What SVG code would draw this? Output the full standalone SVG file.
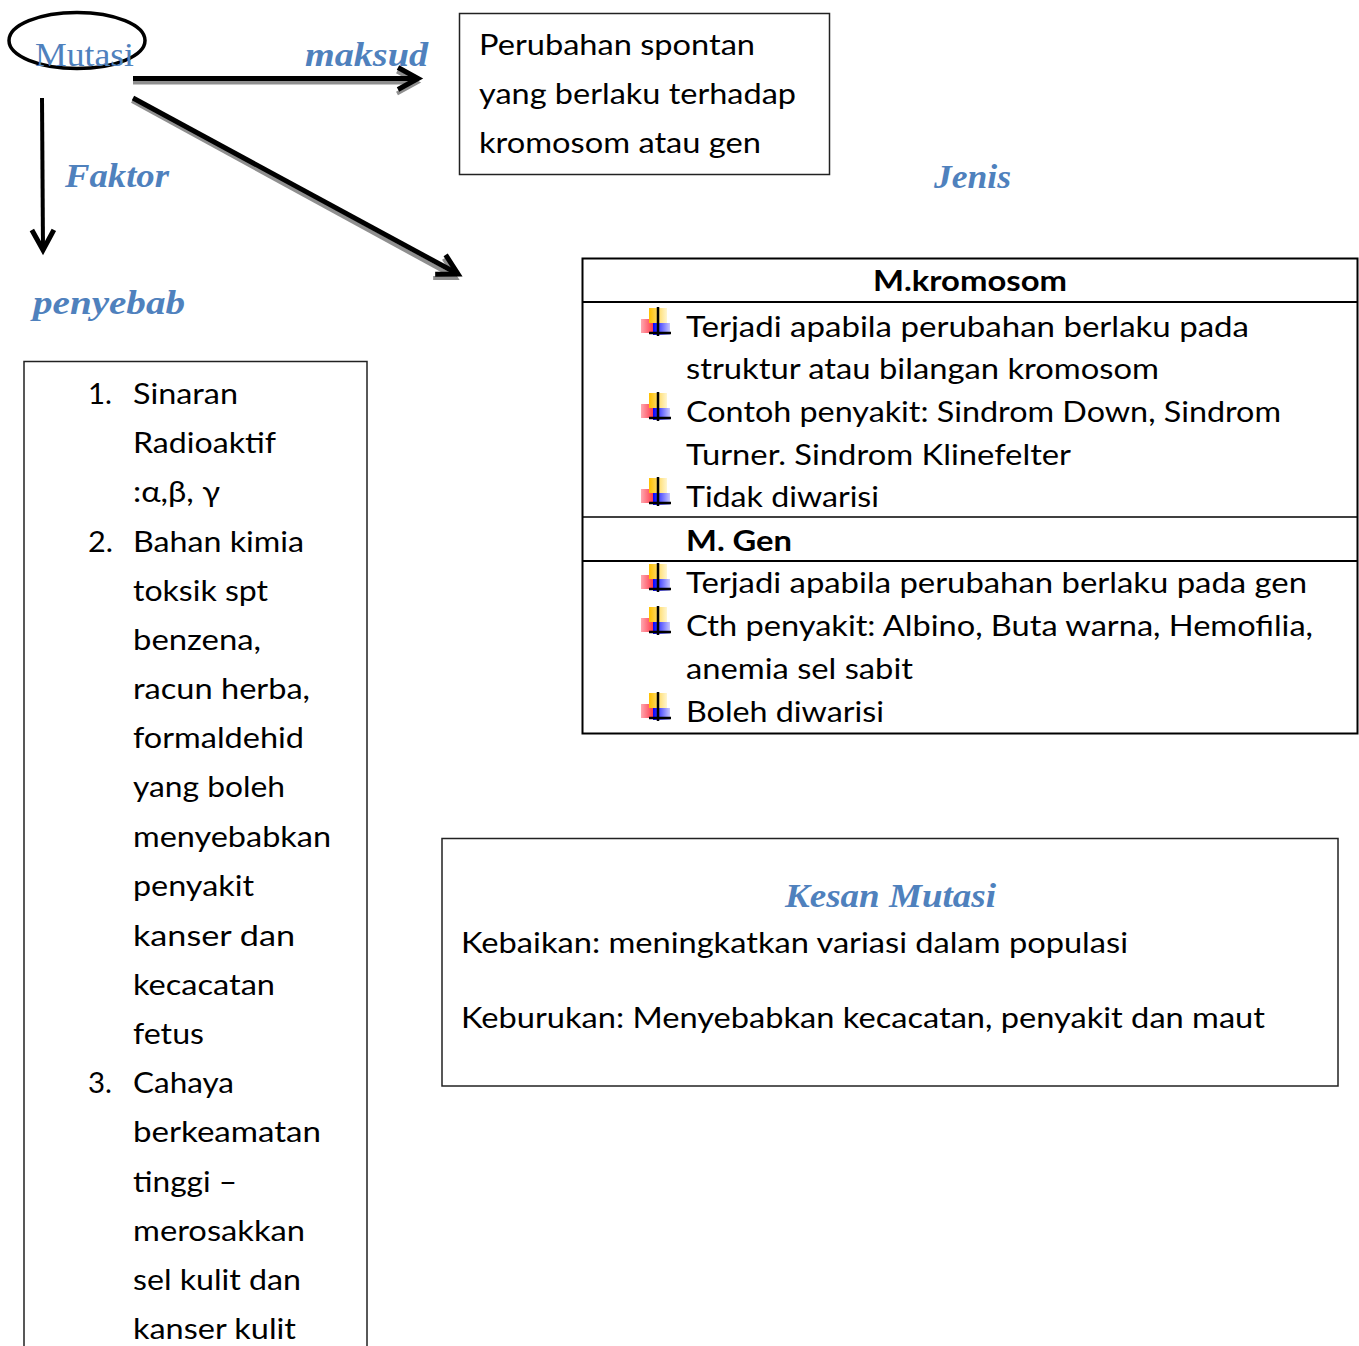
<svg xmlns="http://www.w3.org/2000/svg" width="1359" height="1346" viewBox="0 0 1359 1346">
<style>
.sans{font-family:Lato,"Liberation Sans","DejaVu Sans",sans-serif;font-size:29px;fill:#000}
.bold{font-weight:bold}
.lbl{font-family:"Liberation Serif","DejaVu Serif",serif;font-size:33px;font-weight:bold;font-style:italic;fill:#4F81BD}
.ser{font-family:"Liberation Serif","DejaVu Serif",serif;font-size:33px;fill:#4F81BD}
.box{fill:#fff;stroke:#222;stroke-width:1.5}
.tbl{fill:none;stroke:#000;stroke-width:2}
.conn{fill:none;stroke:#000;stroke-width:5;stroke-linejoin:miter}
.thin{stroke-width:4}
.shadow{fill:none;stroke:#8f8f8f;stroke-width:4}
.cross{stroke:#000;stroke-width:2.5}
</style>
<defs>
<marker id="chev" markerUnits="userSpaceOnUse" orient="auto" refX="0" refY="0" markerWidth="40" markerHeight="40" viewBox="-30 -20 40 40" overflow="visible">
<path d="M -20 -11 L 0 0 L -20 11" fill="none" stroke="#000" stroke-width="5"/>
</marker>
<marker id="chevShadow" markerUnits="userSpaceOnUse" orient="auto" refX="0" refY="0" markerWidth="40" markerHeight="40" viewBox="-30 -20 40 40" overflow="visible">
<path d="M -20 -11 L 0 0 L -20 11" fill="none" stroke="#8f8f8f" stroke-width="4"/>
</marker>
<linearGradient id="gY" x1="0" y1="0" x2="1" y2="0">
<stop offset="0" stop-color="#FFC000"/><stop offset="1" stop-color="#FFF6D0"/>
</linearGradient>
<linearGradient id="gR" x1="0" y1="0" x2="1" y2="0">
<stop offset="0" stop-color="#FFA8B0"/><stop offset="1" stop-color="#FF2A3C"/>
</linearGradient>
<linearGradient id="gB" x1="0" y1="0" x2="1" y2="0">
<stop offset="0" stop-color="#0000FF"/><stop offset="1" stop-color="#C8C8FF"/>
</linearGradient>
<g id="bullet">
<rect x="0" y="-18" width="14" height="14" fill="url(#gR)"/>
<rect x="8" y="-29" width="18" height="15" fill="url(#gY)"/>
<rect x="12" y="-14" width="17" height="12" fill="url(#gB)"/>
<line class="cross" x1="17" y1="-30" x2="17" y2="-1"/>
<line class="cross" x1="8" y1="-4" x2="30" y2="-4"/>
</g>
</defs>
<rect x="0" y="0" width="1359" height="1346" fill="#fff"/>

<g id="connectors">
<path class="shadow" d="M133 82.5 L417 82.5" marker-end="url(#chevShadow)"/>
<path class="conn" d="M133 78.5 L418 78.5" marker-end="url(#chev)"/>
<path class="shadow" d="M132 101 L456 278" marker-end="url(#chevShadow)"/>
<path class="conn" d="M133 98 L458 274" marker-end="url(#chev)"/>
<path class="conn thin" d="M42 98 L43 250" marker-end="url(#chev)"/>
</g>

<g id="node-mutasi">
<ellipse cx="77" cy="40.5" rx="68" ry="28" fill="none" stroke="#000" stroke-width="3.5"/>
<text class="ser" x="35" y="66" textLength="99" lengthAdjust="spacingAndGlyphs">Mutasi</text>
</g>

<g id="label-maksud">
<text class="lbl" x="305" y="66" textLength="123" lengthAdjust="spacingAndGlyphs">maksud</text>
</g>

<g id="label-faktor">
<text class="lbl" x="65" y="187" textLength="104" lengthAdjust="spacingAndGlyphs">Faktor</text>
<text class="lbl" x="33" y="314" textLength="152" lengthAdjust="spacingAndGlyphs">penyebab</text>
</g>

<g id="label-jenis">
<text class="lbl" x="934" y="188" textLength="77" lengthAdjust="spacingAndGlyphs">Jenis</text>
</g>

<g id="node-definition">
<rect class="box" x="459.5" y="13.5" width="370" height="161"/>
<text class="sans" x="479" y="55" textLength="276" lengthAdjust="spacingAndGlyphs">Perubahan spontan</text>
<text class="sans" x="479" y="104" textLength="317" lengthAdjust="spacingAndGlyphs">yang berlaku terhadap</text>
<text class="sans" x="479" y="153" textLength="282" lengthAdjust="spacingAndGlyphs">kromosom atau gen</text>
</g>

<g id="node-jenis-table">
<rect class="tbl" x="582.5" y="258.5" width="775" height="475"/>
<line class="tbl" x1="582" y1="302" x2="1358" y2="302"/>
<line stroke="#000" stroke-width="1.5" x1="582" y1="517" x2="1358" y2="517"/>
<line class="tbl" x1="582" y1="561" x2="1358" y2="561"/>
<text class="sans bold" x="873" y="291" textLength="194" lengthAdjust="spacingAndGlyphs">M.kromosom</text>
<use href="#bullet" transform="translate(641,337)"/>
<text class="sans" x="686" y="337" textLength="563" lengthAdjust="spacingAndGlyphs">Terjadi apabila perubahan  berlaku pada</text>
<text class="sans" x="686" y="379" textLength="473" lengthAdjust="spacingAndGlyphs">struktur atau bilangan kromosom</text>
<use href="#bullet" transform="translate(641,422)"/>
<text class="sans" x="686" y="422" textLength="595" lengthAdjust="spacingAndGlyphs">Contoh penyakit: Sindrom Down, Sindrom</text>
<text class="sans" x="686" y="465" textLength="385" lengthAdjust="spacingAndGlyphs">Turner. Sindrom Klinefelter</text>
<use href="#bullet" transform="translate(641,507)"/>
<text class="sans" x="686" y="507" textLength="193" lengthAdjust="spacingAndGlyphs">Tidak diwarisi</text>
<text class="sans bold" x="686" y="551" textLength="106" lengthAdjust="spacingAndGlyphs">M. Gen</text>
<use href="#bullet" transform="translate(641,593)"/>
<text class="sans" x="686" y="593" textLength="621" lengthAdjust="spacingAndGlyphs">Terjadi apabila perubahan berlaku pada gen</text>
<use href="#bullet" transform="translate(641,636)"/>
<text class="sans" x="686" y="636" textLength="627" lengthAdjust="spacingAndGlyphs">Cth penyakit: Albino, Buta warna, Hemofilia,</text>
<text class="sans" x="686" y="679" textLength="227" lengthAdjust="spacingAndGlyphs">anemia sel sabit</text>
<use href="#bullet" transform="translate(641,722)"/>
<text class="sans" x="686" y="722" textLength="198" lengthAdjust="spacingAndGlyphs">Boleh diwarisi</text>
</g>

<g id="node-causes">
<rect class="box" x="24" y="361.5" width="343" height="1000"/>
<text class="sans" x="88" y="404" textLength="24" lengthAdjust="spacingAndGlyphs">1.</text>
<text class="sans" x="133" y="404" textLength="105" lengthAdjust="spacingAndGlyphs">Sinaran</text>
<text class="sans" x="133" y="453" textLength="143" lengthAdjust="spacingAndGlyphs">Radioaktif</text>
<text class="sans" x="133" y="502" textLength="87" lengthAdjust="spacingAndGlyphs">:α,β, γ</text>
<text class="sans" x="88" y="552" textLength="25" lengthAdjust="spacingAndGlyphs">2.</text>
<text class="sans" x="133" y="552" textLength="171" lengthAdjust="spacingAndGlyphs">Bahan kimia</text>
<text class="sans" x="133" y="601" textLength="135" lengthAdjust="spacingAndGlyphs">toksik spt</text>
<text class="sans" x="133" y="650" textLength="128" lengthAdjust="spacingAndGlyphs">benzena,</text>
<text class="sans" x="133" y="699" textLength="177" lengthAdjust="spacingAndGlyphs">racun herba,</text>
<text class="sans" x="133" y="748" textLength="171" lengthAdjust="spacingAndGlyphs">formaldehid</text>
<text class="sans" x="133" y="797" textLength="152" lengthAdjust="spacingAndGlyphs">yang boleh</text>
<text class="sans" x="133" y="847" textLength="198" lengthAdjust="spacingAndGlyphs">menyebabkan</text>
<text class="sans" x="133" y="896" textLength="121" lengthAdjust="spacingAndGlyphs">penyakit</text>
<text class="sans" x="133" y="946" textLength="162" lengthAdjust="spacingAndGlyphs">kanser  dan</text>
<text class="sans" x="133" y="995" textLength="142" lengthAdjust="spacingAndGlyphs">kecacatan</text>
<text class="sans" x="133" y="1044" textLength="71" lengthAdjust="spacingAndGlyphs">fetus</text>
<text class="sans" x="88" y="1093" textLength="24" lengthAdjust="spacingAndGlyphs">3.</text>
<text class="sans" x="133" y="1093" textLength="101" lengthAdjust="spacingAndGlyphs">Cahaya</text>
<text class="sans" x="133" y="1142" textLength="188" lengthAdjust="spacingAndGlyphs">berkeamatan</text>
<text class="sans" x="133" y="1192" textLength="104" lengthAdjust="spacingAndGlyphs">tinggi –</text>
<text class="sans" x="133" y="1241" textLength="172" lengthAdjust="spacingAndGlyphs">merosakkan</text>
<text class="sans" x="133" y="1290" textLength="168" lengthAdjust="spacingAndGlyphs">sel kulit dan</text>
<text class="sans" x="133" y="1339" textLength="163" lengthAdjust="spacingAndGlyphs">kanser kulit</text>
</g>

<g id="node-kesan">
<rect class="box" x="442" y="838.5" width="896" height="247.5"/>
<text class="lbl" x="785" y="907" textLength="211" lengthAdjust="spacingAndGlyphs">Kesan Mutasi</text>
<text class="sans" x="461" y="953" textLength="667" lengthAdjust="spacingAndGlyphs">Kebaikan: meningkatkan variasi dalam populasi</text>
<text class="sans" x="461" y="1028" textLength="804" lengthAdjust="spacingAndGlyphs">Keburukan: Menyebabkan kecacatan, penyakit dan maut</text>
</g>
</svg>
